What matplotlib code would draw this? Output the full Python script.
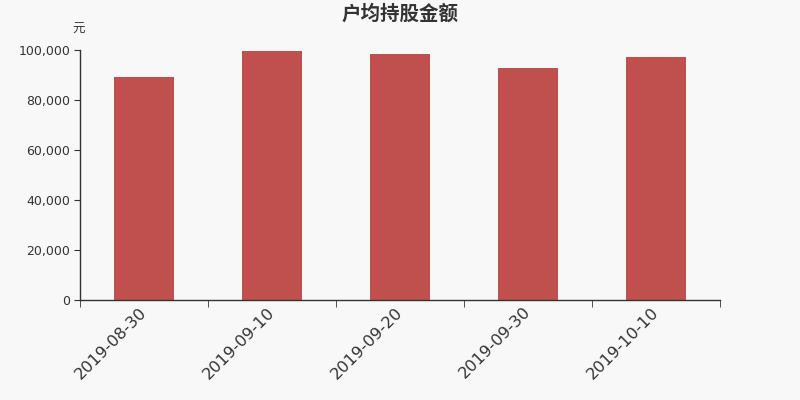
import matplotlib
matplotlib.use("Agg")
import matplotlib.pyplot as plt
from matplotlib.ticker import FuncFormatter, FixedLocator

plt.rcParams['font.family'] = ['Noto Sans CJK SC', 'DejaVu Sans']

categories = ["2019-08-30", "2019-09-10", "2019-09-20", "2019-09-30", "2019-10-10"]
values = [89100, 99600, 98400, 92800, 97200]
yticks = [0, 20000, 40000, 60000, 80000, 100000]

bg = "#f8f8f8"
fig = plt.figure(figsize=(8, 4), dpi=100, facecolor=bg)
ax = fig.add_axes([80/800, 100/400, 640/800, 250/400], facecolor=bg)

x = list(range(len(categories)))
ax.bar(x, values, width=0.47, color="#c0504d", zorder=2)
ax.set_xlim(-0.5, len(categories) - 0.5)
ax.set_ylim(0, 100000)

ax.set_yticks(yticks)
ax.yaxis.set_major_formatter(FuncFormatter(lambda v, p: f"{int(v):,}"))
ax.set_xticks(x)
ax.set_xticklabels(categories, rotation=45, ha="right", va="center", rotation_mode="anchor",
                   fontsize=11.7, color="#333333", family="DejaVu Sans")
ax.tick_params(axis="x", length=0, pad=7)
ax.xaxis.set_minor_locator(FixedLocator([i - 0.5 for i in range(len(categories) + 1)]))
ax.tick_params(axis="x", which="minor", length=5, color="#333333")
ax.tick_params(axis="y", length=4, color="#333333", labelsize=9, labelcolor="#333333", pad=3)
for lab in ax.get_yticklabels():
    lab.set_family("DejaVu Sans")

for s in ["top", "right"]:
    ax.spines[s].set_visible(False)
for s in ["left", "bottom"]:
    ax.spines[s].set_color("#333333")
    ax.spines[s].set_linewidth(1)

fig.text(0.5, 1 - 14/400, "户均持股金额", ha="center", va="center", fontsize=14, fontweight="bold", color="#333333")
fig.text(79/800, 1 - 29/400, "元", ha="center", va="center", fontsize=9, color="#333333")

fig.savefig("out.png", dpi=100, facecolor=bg)
